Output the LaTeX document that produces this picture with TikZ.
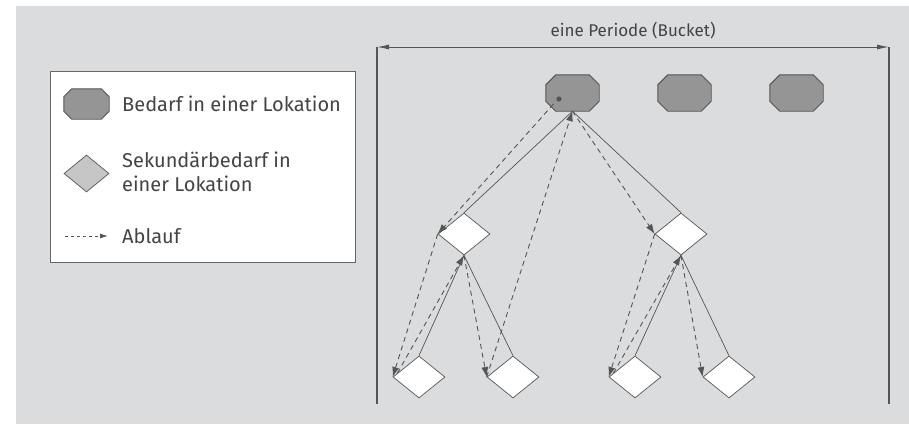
\documentclass[tikz,border=0pt]{standalone}
\usepackage{fontspec}
\setmainfont{Fira Sans}
\usetikzlibrary{shapes.geometric,arrows.meta,calc}
\definecolor{bggray}{HTML}{DBDCDE}
\definecolor{linegray}{HTML}{555555}
\definecolor{textgray}{HTML}{444444}
\definecolor{octfill}{HTML}{959595}
\definecolor{legdia}{HTML}{C6C6C6}
\tikzset{
  octnode/.style={rectangle, draw=none, minimum width=53pt, minimum height=36pt, inner sep=0pt},
  octdraw/.style={draw=linegray, line width=0.9pt, fill=octfill, line join=miter},
  dianode/.style={diamond, draw=linegray, line width=0.7pt, fill=white,
    minimum width=52pt, minimum height=42pt, inner sep=0pt},
  solidcon/.style={draw=linegray, line width=0.7pt},
  flowcon/.style={draw=linegray, line width=0.9pt, dash pattern=on 5pt off 4pt,
    -{Latex[length=10pt,width=7pt]}},
  lbl/.style={text=textgray, font=\fontsize{20}{24}\selectfont, inner sep=0pt, anchor=west, align=left},
}
\newcommand\myoctagon[2]{%
  \draw[octdraw] ($(#1.north west)+(#2,0)$) -- ($(#1.north east)+(-#2,0)$) -- ($(#1.north east)+(0,#2)$)
    -- ($(#1.south east)+(0,-#2)$) -- ($(#1.south east)+(-#2,0)$) -- ($(#1.south west)+(#2,0)$)
    -- ($(#1.south west)+(0,-#2)$) -- ($(#1.north west)+(0,#2)$) -- cycle;}
\begin{document}
\begin{tikzpicture}[x=1pt,y=-1pt]
\useasboundingbox (0,0) rectangle (909,424);
\fill[bggray] (16,6) rectangle (909,424);

% legend
\node[draw=gray!80!black, line width=0.8pt, fill=white, minimum width=305pt, minimum height=191pt, anchor=north west, inner sep=0pt] (legend) at (50,71) {};
\node[octnode, minimum width=45pt, minimum height=30pt] (loct) at (86.5,104) {};
\myoctagon{loct}{8}
\node[lbl] (ltxt1) at (122,104) {Bedarf in einer Lokation};
\node[dianode, fill=legdia, minimum width=45pt, minimum height=37pt] (ldia) at (86.5,173.5) {};
\node[lbl] (ltxt2) at (122,172) {Sekundärbedarf in\\einer Lokation};
\coordinate (la1) at (65,236);
\coordinate (la2) at (108,236);
\draw[flowcon, dash pattern=on 3pt off 3pt, -{Latex[length=8pt,width=5pt]}] (la1) -- (la2);
\node[lbl] (ltxt3) at (122,236) {Ablauf};

% period
\coordinate (pl) at (377,47);
\coordinate (pr) at (889,47);
\coordinate (plb) at (377,404);
\coordinate (prb) at (889,404);
\draw[solidcon, line width=1pt, {Latex[length=12pt,width=5pt]}-{Latex[length=12pt,width=5pt]}] (pl) -- (pr);
\draw[solidcon, line width=1.2pt] (pl) -- (plb);
\draw[solidcon, line width=1.2pt] (pr) -- (prb);
\node[lbl, anchor=center, font=\fontsize{17}{20}\selectfont] (ptxt) at (633,31) {eine Periode (Bucket)};

% octagons
\node[octnode] (o1) at (572.5,93) {};
\node[octnode] (o2) at (684.5,93) {};
\node[octnode] (o3) at (796.5,93) {};
\foreach \n in {o1,o2,o3} {\myoctagon{\n}{10}}
\fill[linegray] (559,99) circle (2.6pt);
\coordinate (o1s) at ($(o1.center)+(-19,11)$);

% diamonds
\node[dianode] (dL) at (464,234) {};
\node[dianode] (dR) at (681,234) {};
\node[dianode] (b1) at (419,377) {};
\node[dianode] (b2) at (513,377) {};
\node[dianode] (b3) at (635,377) {};
\node[dianode] (b4) at (729,377) {};

% solid links
\draw[solidcon] (o1.south) -- (dL.north);
\draw[solidcon] (o1.south) -- (dR.north);
\draw[solidcon] (dL.south) -- (b1.north);
\draw[solidcon] (dL.south) -- (b2.north);
\draw[solidcon] (dR.south) -- (b3.north);
\draw[solidcon] (dR.south) -- (b4.north);

% flow
\draw[flowcon] (o1s) -- (dL.west);
\draw[flowcon] (dL.west) -- (b1.west);
\draw[flowcon] (b1.170) -- (dL.south);
\draw[flowcon] (dL.south) -- (b2.west);
\draw[flowcon] (b2.west) -- (o1.south);
\draw[flowcon] (o1.south) -- (dR.west);
\draw[flowcon] (dR.west) -- (b3.west);
\draw[flowcon] (b3.170) -- (dR.south);
\draw[flowcon] (dR.south) -- (b4.west);
\end{tikzpicture}
\end{document}
